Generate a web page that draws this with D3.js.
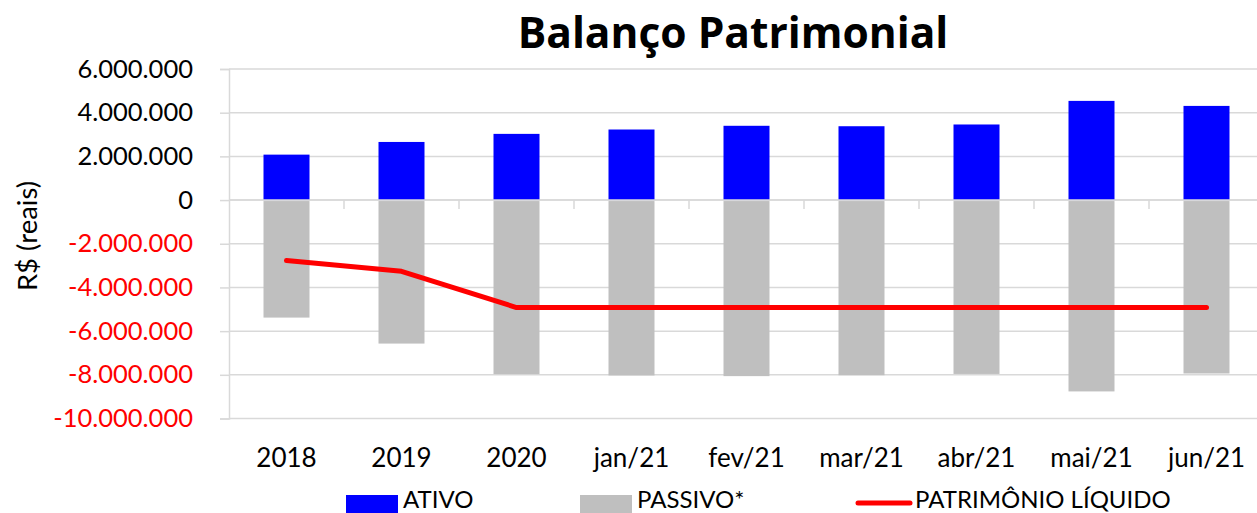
<!DOCTYPE html>
<html><head><meta charset="utf-8">
<script src="https://cdn.jsdelivr.net/npm/d3@7"></script>
<style>body{margin:0;background:#fff}svg{display:block}</style>
</head><body><svg id="c" width="1257" height="513"></svg>
<script>
const categories = ["2018","2019","2020","jan/21","fev/21","mar/21","abr/21","mai/21","jun/21"];
const ativo = [2080000,2660000,3030000,3230000,3400000,3380000,3460000,4540000,4310000];
const passivo = [-5380000,-6570000,-7970000,-8030000,-8060000,-8020000,-7960000,-8760000,-7940000];
const patrimonio = [-2770000,-3260000,-4920000,-4920000,-4920000,-4920000,-4920000,-4920000,-4920000];
const yTicks = [6000000,4000000,2000000,0,-2000000,-4000000,-6000000,-8000000,-10000000];
const seriesNames = ["ATIVO","PASSIVO*","PATRIMÔNIO LÍQUIDO"];

const W = 1257, H = 513;
const svg = d3.select("#c");
const FONT = "Lato, 'Open Sans', sans-serif";
const x = d3.scaleBand().domain(categories).range([229, 1264]).paddingInner(0.6).paddingOuter(0.3);
const xc = d3.scalePoint().domain(categories).range([229 + 57.5, 1264 - 57.5]);
const y = d3.scaleLinear().domain([-10000000, 6000000]).range([418.5, 69]);
const fmt = v => v === 0 ? "0" : (v < 0 ? "-" : "") + d3.format(",")(Math.abs(v)).replace(/,/g, ".");

// gridlines
svg.append("g").selectAll("line").data(yTicks).join("line")
  .attr("x1", 229).attr("x2", W).attr("y1", d => y(d)).attr("y2", d => y(d))
  .attr("stroke", "#d9d9d9").attr("stroke-width", 1.5);

// y axis
const yAxis = svg.append("g").attr("transform", "translate(229,0)")
  .call(d3.axisLeft(y).tickValues(yTicks).tickFormat(fmt).tickSize(9).tickPadding(27));
yAxis.select(".domain").attr("stroke", "#d9d9d9").attr("stroke-width", 1.5);
yAxis.selectAll(".tick line").attr("stroke", "#d9d9d9").attr("stroke-width", 1.5);
yAxis.selectAll("text").attr("font-family", FONT).attr("font-size", 25.5)
  .attr("fill", d => d < 0 ? "#ff0000" : "#000");

// bars
svg.append("g").selectAll("rect").data(categories).join("rect")
  .attr("x", d => x(d)).attr("width", x.bandwidth())
  .attr("y", (d, i) => y(ativo[i])).attr("height", (d, i) => y(0) - y(ativo[i]))
  .attr("fill", "#0000ff");
svg.append("g").selectAll("rect").data(categories).join("rect")
  .attr("x", d => x(d)).attr("width", x.bandwidth())
  .attr("y", y(0) + 1).attr("height", (d, i) => y(passivo[i]) - y(0) - 1)
  .attr("fill", "#bfbfbf");

// x axis (zero line with category separators)
const step = (1264 - 229) / categories.length;
svg.append("line").attr("x1", 229).attr("x2", W).attr("y1", y(0)).attr("y2", y(0))
  .attr("stroke", "#d9d9d9").attr("stroke-width", 1.5);
svg.append("g").selectAll("line").data(d3.range(1, categories.length)).join("line")
  .attr("x1", i => 229 + i * step).attr("x2", i => 229 + i * step)
  .attr("y1", y(0)).attr("y2", y(0) + 9).attr("stroke", "#d9d9d9").attr("stroke-width", 1.5);

// line
svg.append("path").datum(patrimonio)
  .attr("d", d3.line().x((d, i) => xc(categories[i])).y(d => y(d)))
  .attr("fill", "none").attr("stroke", "#ff0000").attr("stroke-width", 5)
  .attr("stroke-linecap", "round").attr("stroke-linejoin", "round");

// category labels
svg.append("g").selectAll("text").data(categories).join("text")
  .attr("x", d => xc(d)).attr("y", 467).attr("text-anchor", "middle")
  .attr("font-family", FONT).attr("font-size", 26).text(d => d);

// title
svg.append("text").attr("x", 733).attr("y", 48).attr("text-anchor", "middle")
  .attr("font-family", "'Open Sans', sans-serif").attr("font-weight", "bold").attr("font-size", 42.5)
  .text("Balanço Patrimonial");

// y label
svg.append("text").attr("transform", "translate(37,236) rotate(-90)").attr("text-anchor", "middle")
  .attr("font-family", FONT).attr("font-size", 27.5).text("R$ (reais)");

// legend
const lg = svg.append("g");
const legX = [346, 580, 858];
lg.append("rect").attr("x", legX[0]).attr("y", 495).attr("width", 52).attr("height", 20).attr("fill", "#0000ff");
lg.append("rect").attr("x", legX[1]).attr("y", 495).attr("width", 52).attr("height", 20).attr("fill", "#bfbfbf");
lg.append("line").attr("x1", legX[2]).attr("x2", legX[2] + 52).attr("y1", 503).attr("y2", 503)
  .attr("stroke", "#ff0000").attr("stroke-width", 5).attr("stroke-linecap", "round");
lg.selectAll("text").data(seriesNames).join("text")
  .attr("x", (d, i) => legX[i] + 57).attr("y", 508)
  .attr("font-family", FONT).attr("font-size", 24).text(d => d);
</script></body></html>
